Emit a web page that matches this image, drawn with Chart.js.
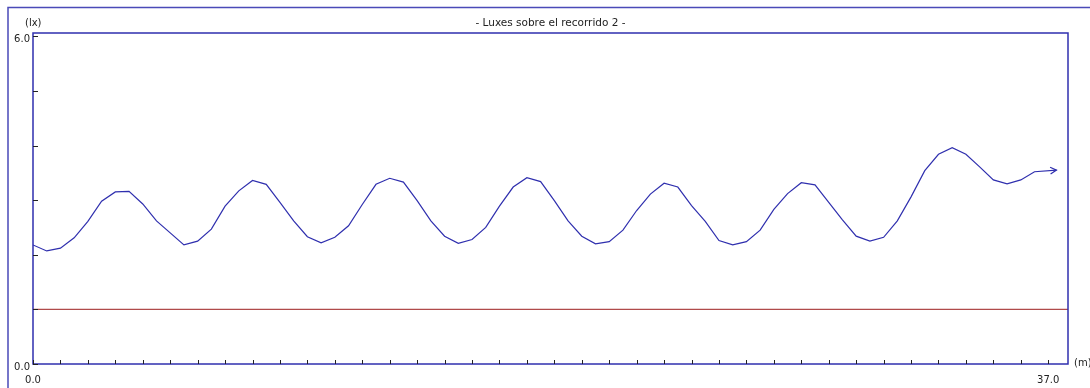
<!DOCTYPE html>
<html>
<head>
<meta charset="utf-8">
<script src="https://cdn.jsdelivr.net/npm/chart.js@4/dist/chart.umd.min.js"></script>
<style>
  html, body { margin: 0; padding: 0; background: #fff; }
  #wrap { width: 1090px; height: 388px; }
</style>
</head>
<body>
<div id="wrap"><canvas id="grafico"></canvas></div>
<script>
// recorrido 2: luxes cada 0.5 m
const distancias = [
  0, 0.5, 1, 1.5, 2, 2.5, 3, 3.5, 4, 4.5, 5, 5.5, 6, 6.5, 7, 7.5, 8, 8.5, 9, 9.5,
  10, 10.5, 11, 11.5, 12, 12.5, 13, 13.5, 14, 14.5, 15, 15.5, 16, 16.5, 17, 17.5, 18, 18.5, 19, 19.5,
  20, 20.5, 21, 21.5, 22, 22.5, 23, 23.5, 24, 24.5, 25, 25.5, 26, 26.5, 27, 27.5, 28, 28.5, 29, 29.5,
  30, 30.5, 31, 31.5, 32, 32.5, 33, 33.5, 34, 34.5, 35, 35.5, 36, 36.5, 37.3
];
const luxes = [
  2.18, 2.07, 2.12, 2.31, 2.61, 2.98, 3.15, 3.16, 2.93, 2.62, 2.40, 2.18, 2.25, 2.47, 2.89, 3.17, 3.36, 3.29, 2.96, 2.62,
  2.33, 2.22, 2.32, 2.53, 2.92, 3.29, 3.40, 3.33, 2.99, 2.62, 2.34, 2.21, 2.28, 2.50, 2.89, 3.24, 3.41, 3.34, 2.99, 2.62,
  2.34, 2.20, 2.24, 2.45, 2.81, 3.11, 3.31, 3.24, 2.90, 2.61, 2.26, 2.18, 2.24, 2.45, 2.83, 3.12, 3.32, 3.28, 2.96, 2.64,
  2.34, 2.25, 2.32, 2.62, 3.06, 3.54, 3.84, 3.96, 3.84, 3.61, 3.37, 3.30, 3.37, 3.52, 3.55
];
const limite = 1.0;
const ticksX = [0, 1, 2, 3, 4, 5, 6, 7, 8, 9, 10, 11, 12, 13, 14, 15, 16, 17, 18, 19, 20,
  21, 22, 23, 24, 25, 26, 27, 28, 29, 30, 31, 32, 33, 34, 35, 36, 37];
const ticksY = [0, 1, 2, 3, 4, 5, 6];
const etiquetasX = [0, 37];
const etiquetasY = [0, 6];
const titulo = "- Luxes sobre el recorrido 2 -";

const xMax = 37.72;
const yMax = 6.06;

const azul = "#2f2fae";
const rojo = "#b04a4a";
const fuente = "DejaVu Sans";

const marco = {
  id: "marco",
  afterDatasetsDraw(chart) {
    const ctx = chart.ctx;
    const a = chart.chartArea;
    const sx = chart.scales.x, sy = chart.scales.y;
    ctx.save();

    // marco exterior
    ctx.strokeStyle = "#4a4ab8";
    ctx.lineWidth = 1.5;
    ctx.beginPath();
    ctx.moveTo(8, 400); ctx.lineTo(8, 7.5); ctx.lineTo(1100, 7.5);
    ctx.stroke();

    // borde del area
    ctx.strokeStyle = azul;
    ctx.lineWidth = 1.5;
    ctx.strokeRect(a.left, a.top, a.right - a.left, a.bottom - a.top);

    // marcas
    ctx.strokeStyle = "#222";
    ctx.lineWidth = 1;
    ticksY.forEach(v => {
      const y = Math.round(sy.getPixelForValue(v)) + 0.5;
      ctx.beginPath(); ctx.moveTo(a.left, y); ctx.lineTo(a.left + 5, y); ctx.stroke();
    });
    ticksX.forEach(v => {
      const x = Math.round(sx.getPixelForValue(v)) + 0.5;
      ctx.beginPath(); ctx.moveTo(x, a.bottom); ctx.lineTo(x, a.bottom - 4); ctx.stroke();
    });

    // flecha al final
    const pts = chart.getDatasetMeta(0).data;
    const p1 = pts[pts.length - 2], p2 = pts[pts.length - 1];
    const ang = Math.atan2(p2.y - p1.y, p2.x - p1.x);
    ctx.strokeStyle = azul;
    ctx.lineWidth = 1.2;
    ctx.beginPath();
    ctx.moveTo(p2.x - 7 * Math.cos(ang - 0.5), p2.y - 7 * Math.sin(ang - 0.5));
    ctx.lineTo(p2.x, p2.y);
    ctx.lineTo(p2.x - 7 * Math.cos(ang + 0.5), p2.y - 7 * Math.sin(ang + 0.5));
    ctx.stroke();

    // textos
    ctx.fillStyle = "#222";
    ctx.textBaseline = "alphabetic";
    ctx.font = "10.5px '" + fuente + "'";
    ctx.textAlign = "center";
    ctx.fillText(titulo, (a.left + a.right) / 2, 26);

    ctx.font = "10px '" + fuente + "'";
    ctx.textAlign = "left";
    ctx.fillText("(lx)", 25, 26);
    ctx.fillText("(m)", 1074, 366);

    ctx.textAlign = "right";
    etiquetasY.forEach(v => {
      ctx.fillText(v.toFixed(1), 30, sy.getPixelForValue(v) + 5.5);
    });
    ctx.textAlign = "center";
    etiquetasX.forEach(v => {
      ctx.fillText(v.toFixed(1), sx.getPixelForValue(v), 382.5);
    });
    ctx.restore();
  }
};

new Chart(document.getElementById("grafico"), {
  type: "line",
  data: {
    datasets: [
      {
        data: distancias.map((d, i) => ({ x: d, y: luxes[i] })),
        borderColor: azul, borderWidth: 1.2, pointRadius: 0, fill: false, tension: 0
      },
      {
        data: [{ x: 0, y: limite }, { x: xMax, y: limite }],
        borderColor: rojo, borderWidth: 1.2, pointRadius: 0, fill: false
      }
    ]
  },
  options: {
    responsive: true,
    maintainAspectRatio: false,
    animation: false,
    layout: { padding: { left: 33, right: 22, top: 33, bottom: 24 } },
    plugins: { legend: { display: false }, tooltip: { enabled: false } },
    scales: {
      x: { type: "linear", min: 0, max: xMax, display: false },
      y: { type: "linear", min: 0, max: yMax, display: false }
    }
  },
  plugins: [marco]
});
</script>
</body>
</html>
